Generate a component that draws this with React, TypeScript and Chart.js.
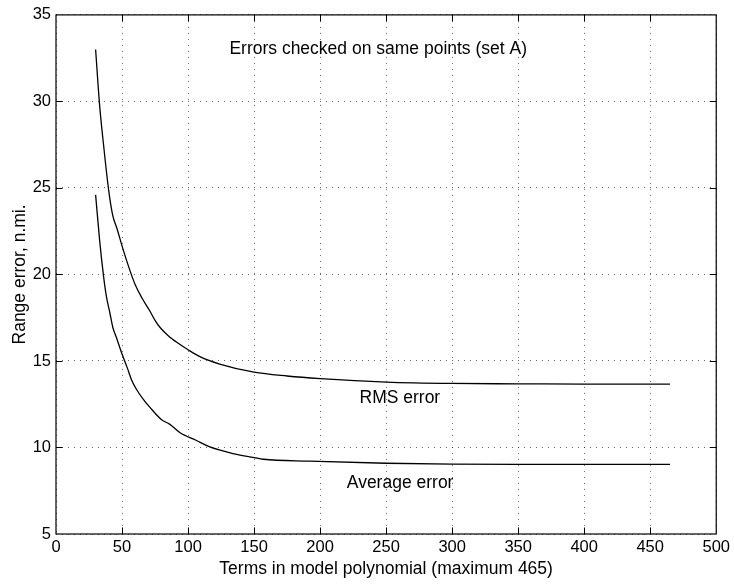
import React, { useEffect, useRef } from "react";
import { Chart, registerables } from "chart.js";

Chart.register(...registerables);

// Terms in model polynomial vs. range error (n.mi.)
const rmsTerms = [30, 33, 36, 40, 43, 46, 50, 55, 60, 65, 71, 75, 79, 85, 92, 100, 109, 124, 150, 175, 200, 250, 300, 350, 400, 465];
const rmsError = [33.0, 29.8, 27.5, 24.8, 23.4, 22.7, 21.65, 20.45, 19.4, 18.65, 17.9, 17.35, 16.92, 16.46, 16.05, 15.65, 15.25, 14.82, 14.35, 14.13, 13.98, 13.78, 13.7, 13.68, 13.66, 13.66];

const avgTerms = [30, 33, 36, 38, 41, 43, 46, 50, 54, 57, 61, 66, 71, 80, 86, 94, 106, 116, 134, 150, 157, 192, 250, 300, 350, 400, 465];
const avgError = [24.6, 22.0, 19.9, 18.8, 17.7, 16.95, 16.3, 15.4, 14.6, 13.95, 13.35, 12.8, 12.33, 11.6, 11.35, 10.85, 10.42, 10.05, 9.65, 9.42, 9.32, 9.21, 9.09, 9.04, 9.02, 9.02, 9.02];

const xTicks = [0, 50, 100, 150, 200, 250, 300, 350, 400, 450, 500];
const yTicks = [5, 10, 15, 20, 25, 30, 35];

const titleText = "Errors checked on same points (set A)";
const rmsLabel = "RMS error";
const avgLabel = "Average error";
const xTitle = "Terms in model polynomial (maximum 465)";
const yTitle = "Range error, n.mi.";

const FONT = "'Liberation Sans', Arial, Helvetica, sans-serif";

const framePlugin = {
  id: "frame",
  afterDraw(chart: any) {
    const { ctx, chartArea } = chart;
    const xs = chart.scales.x;
    const ys = chart.scales.y;
    const { left, right, top, bottom } = chartArea;
    ctx.save();
    ctx.strokeStyle = "#000";
    ctx.lineWidth = 1.2;
    ctx.setLineDash([]);
    ctx.strokeRect(left, top, right - left, bottom - top);
    const tl = 6.5;
    ctx.lineWidth = 1;
    ctx.beginPath();
    for (const v of xTicks.slice(1, -1)) {
      const px = Math.round(xs.getPixelForValue(v)) + 0.5;
      ctx.moveTo(px, bottom);
      ctx.lineTo(px, bottom - tl);
      ctx.moveTo(px, top);
      ctx.lineTo(px, top + tl);
    }
    for (const v of yTicks.slice(1, -1)) {
      const py = Math.round(ys.getPixelForValue(v)) + 0.5;
      ctx.moveTo(left, py);
      ctx.lineTo(left + tl, py);
      ctx.moveTo(right, py);
      ctx.lineTo(right - tl, py);
    }
    ctx.stroke();

    ctx.fillStyle = "#000";
    ctx.font = `17.5px ${FONT}`;
    ctx.textAlign = "center";
    ctx.textBaseline = "alphabetic";
    ctx.fillText(titleText, xs.getPixelForValue(244), ys.getPixelForValue(32.75));
    ctx.fillText(rmsLabel, xs.getPixelForValue(260.4), ys.getPixelForValue(12.57));
    ctx.fillText(avgLabel, xs.getPixelForValue(260.6), ys.getPixelForValue(7.64));
    ctx.restore();
  },
};

export default function App() {
  const ref = useRef<HTMLCanvasElement>(null);
  useEffect(() => {
    if (!ref.current) return;
    const chart = new Chart(ref.current, {
      type: "line",
      data: {
        datasets: [
          {
            label: "RMS error",
            data: rmsTerms.map((x, i) => ({ x, y: rmsError[i] })),
            borderColor: "#000",
            borderWidth: 1.3,
            pointRadius: 0,
            fill: false,
            cubicInterpolationMode: "monotone",
          },
          {
            label: "Average error",
            data: avgTerms.map((x, i) => ({ x, y: avgError[i] })),
            borderColor: "#000",
            borderWidth: 1.3,
            pointRadius: 0,
            fill: false,
            cubicInterpolationMode: "monotone",
          },
        ],
      },
      options: {
        responsive: false,
        devicePixelRatio: 1,
        animation: false,
        layout: { padding: { top: 13, right: 17, left: 0, bottom: 0 } },
        plugins: { legend: { display: false }, tooltip: { enabled: false } },
        scales: {
          x: {
            type: "linear",
            min: 0,
            max: 500,
            afterFit: (s: any) => { s.height = 50; },
            afterBuildTicks: (s: any) => { s.ticks = xTicks.map((v) => ({ value: v })); },
            ticks: { color: "#000", font: { family: FONT, size: 16.5 }, padding: 4, maxRotation: 0 },
            grid: { drawTicks: false, color: "rgba(0,0,0,0.6)", lineWidth: 1 },
            border: { display: false, dash: [1, 5] },
            title: { display: true, text: xTitle, color: "#000", font: { family: FONT, size: 17.5 }, padding: { top: 0, bottom: 4.5 } },
          },
          y: {
            type: "linear",
            min: 5,
            max: 35,
            afterFit: (s: any) => { s.width = 56; },
            afterBuildTicks: (s: any) => { s.ticks = yTicks.map((v) => ({ value: v })); },
            ticks: { color: "#000", font: { family: FONT, size: 16.5 }, padding: 5 },
            grid: { drawTicks: false, color: "rgba(0,0,0,0.6)", lineWidth: 1 },
            border: { display: false, dash: [1, 5] },
            title: { display: true, text: yTitle, color: "#000", font: { family: FONT, size: 17.5 }, padding: { top: 10, bottom: 0 } },
          },
        },
      },
      plugins: [framePlugin],
    } as any);
    return () => chart.destroy();
  }, []);
  return (
    <canvas
      ref={ref}
      width={734}
      height={584}
      style={{ position: "fixed", left: 0, top: 0, width: 734, height: 584, background: "#fff" }}
    />
  );
}
